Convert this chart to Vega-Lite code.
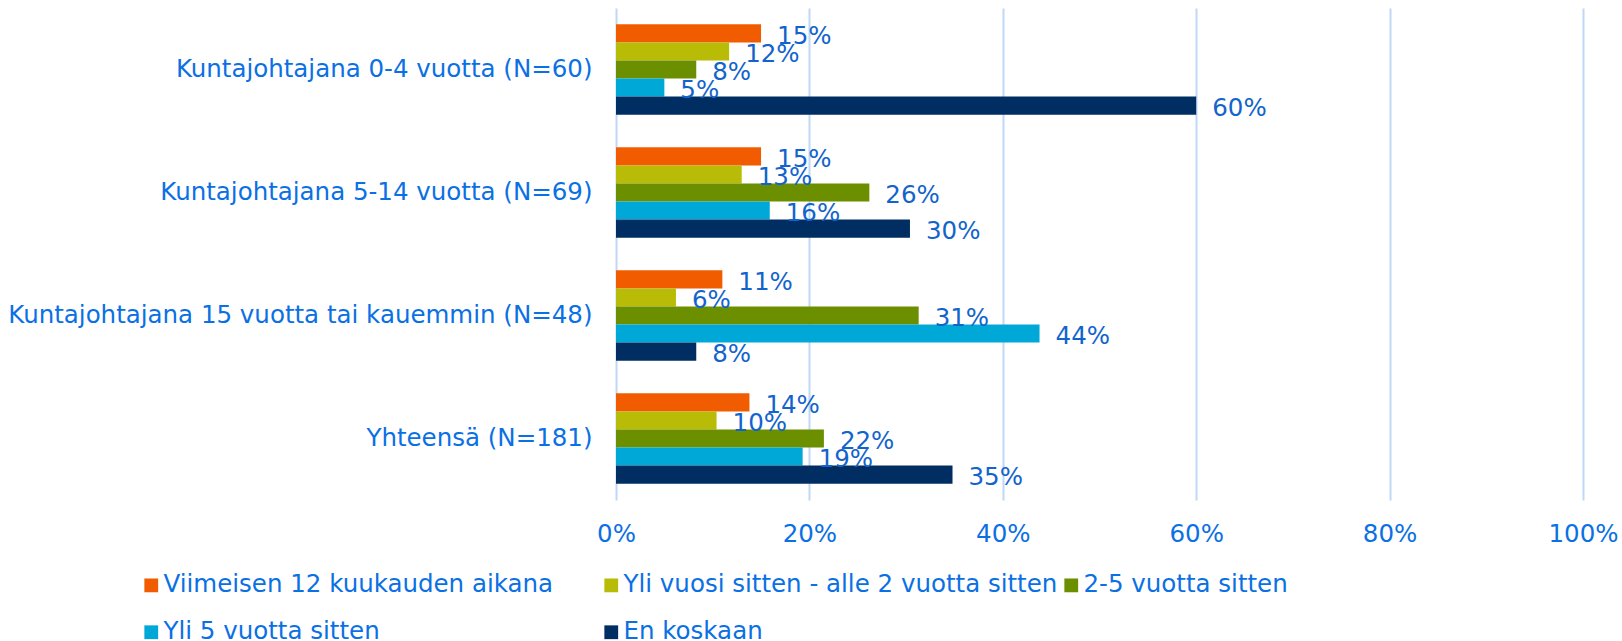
{
  "$schema": "https://vega.github.io/schema/vega-lite/v6.json",
  "autosize": {"type": "none"},
  "padding": {"left": 616, "top": 8, "right": 39, "bottom": 141},
  "width": 967,
  "height": 492,
  "background": "white",
  "data": {
    "values": [
      {"group": "Kuntajohtajana 0-4 vuotta (N=60)", "series": "Viimeisen 12 kuukauden aikana", "value": 0.15},
      {"group": "Kuntajohtajana 0-4 vuotta (N=60)", "series": "Yli vuosi sitten - alle 2 vuotta sitten", "value": 0.117},
      {"group": "Kuntajohtajana 0-4 vuotta (N=60)", "series": "2-5 vuotta sitten", "value": 0.083},
      {"group": "Kuntajohtajana 0-4 vuotta (N=60)", "series": "Yli 5 vuotta sitten", "value": 0.05},
      {"group": "Kuntajohtajana 0-4 vuotta (N=60)", "series": "En koskaan", "value": 0.6},
      {"group": "Kuntajohtajana 5-14 vuotta (N=69)", "series": "Viimeisen 12 kuukauden aikana", "value": 0.15},
      {"group": "Kuntajohtajana 5-14 vuotta (N=69)", "series": "Yli vuosi sitten - alle 2 vuotta sitten", "value": 0.13},
      {"group": "Kuntajohtajana 5-14 vuotta (N=69)", "series": "2-5 vuotta sitten", "value": 0.262},
      {"group": "Kuntajohtajana 5-14 vuotta (N=69)", "series": "Yli 5 vuotta sitten", "value": 0.159},
      {"group": "Kuntajohtajana 5-14 vuotta (N=69)", "series": "En koskaan", "value": 0.304},
      {"group": "Kuntajohtajana 15 vuotta tai kauemmin (N=48)", "series": "Viimeisen 12 kuukauden aikana", "value": 0.11},
      {"group": "Kuntajohtajana 15 vuotta tai kauemmin (N=48)", "series": "Yli vuosi sitten - alle 2 vuotta sitten", "value": 0.062},
      {"group": "Kuntajohtajana 15 vuotta tai kauemmin (N=48)", "series": "2-5 vuotta sitten", "value": 0.313},
      {"group": "Kuntajohtajana 15 vuotta tai kauemmin (N=48)", "series": "Yli 5 vuotta sitten", "value": 0.438},
      {"group": "Kuntajohtajana 15 vuotta tai kauemmin (N=48)", "series": "En koskaan", "value": 0.083},
      {"group": "Yhteensä (N=181)", "series": "Viimeisen 12 kuukauden aikana", "value": 0.138},
      {"group": "Yhteensä (N=181)", "series": "Yli vuosi sitten - alle 2 vuotta sitten", "value": 0.104},
      {"group": "Yhteensä (N=181)", "series": "2-5 vuotta sitten", "value": 0.215},
      {"group": "Yhteensä (N=181)", "series": "Yli 5 vuotta sitten", "value": 0.193},
      {"group": "Yhteensä (N=181)", "series": "En koskaan", "value": 0.348}
    ]
  },
  "encoding": {
    "y": {
      "field": "group",
      "type": "nominal",
      "sort": ["Kuntajohtajana 0-4 vuotta (N=60)", "Kuntajohtajana 5-14 vuotta (N=69)", "Kuntajohtajana 15 vuotta tai kauemmin (N=48)", "Yhteensä (N=181)"],
      "scale": {"paddingInner": 0.265, "paddingOuter": 0.1325},
      "axis": {
        "title": null,
        "ticks": false,
        "domain": false,
        "labelFont": "DejaVu Sans",
        "labelFontSize": 24.5,
        "labelColor": "#0A70E4",
        "labelPadding": 24,
        "labelLimit": 700
      }
    },
    "yOffset": {
      "field": "series",
      "type": "nominal",
      "sort": ["Viimeisen 12 kuukauden aikana", "Yli vuosi sitten - alle 2 vuotta sitten", "2-5 vuotta sitten", "Yli 5 vuotta sitten", "En koskaan"],
      "scale": {"paddingInner": 0, "paddingOuter": 0}
    },
    "x": {
      "field": "value",
      "type": "quantitative",
      "scale": {"domain": [0, 1]},
      "axis": {
        "title": null,
        "format": ".0%",
        "values": [0, 0.2, 0.4, 0.6, 0.8, 1],
        "ticks": false,
        "domain": false,
        "grid": true,
        "gridColor": "#BFD8F5",
        "gridWidth": 2,
        "labelFont": "DejaVu Sans",
        "labelFontSize": 24.5,
        "labelColor": "#0A70E4",
        "labelPadding": 22,
        "labelFlush": false
      }
    }
  },
  "layer": [
    {
      "mark": {"type": "bar"},
      "encoding": {
        "color": {
          "field": "series",
          "type": "nominal",
          "scale": {
            "domain": ["Viimeisen 12 kuukauden aikana", "Yli vuosi sitten - alle 2 vuotta sitten", "2-5 vuotta sitten", "Yli 5 vuotta sitten", "En koskaan"],
            "range": ["#F25C00", "#B8BC06", "#6C8F00", "#00A8D8", "#002E63"]
          },
          "legend": {
            "title": null,
            "orient": "none",
            "legendX": -477,
            "legendY": 565,
            "direction": "horizontal",
            "columns": 3,
            "gridAlign": "all",
            "columnPadding": 1,
            "rowPadding": 22,
            "padding": 0,
            "symbolType": "square",
            "symbolSize": 190,
            "symbolStrokeWidth": 0,
            "labelFont": "DejaVu Sans",
            "labelFontSize": 24.5,
            "labelColor": "#0A70E4",
            "labelOffset": 0,
            "labelLimit": 700
          }
        }
      }
    },
    {
      "mark": {"type": "text", "align": "left", "baseline": "middle", "dx": 16, "dy": 3.5, "font": "DejaVu Sans", "fontSize": 24.5, "color": "#1264CC"},
      "encoding": {
        "text": {"field": "value", "type": "quantitative", "format": ".0%"}
      }
    }
  ],
  "config": {"view": {"stroke": null}}
}
